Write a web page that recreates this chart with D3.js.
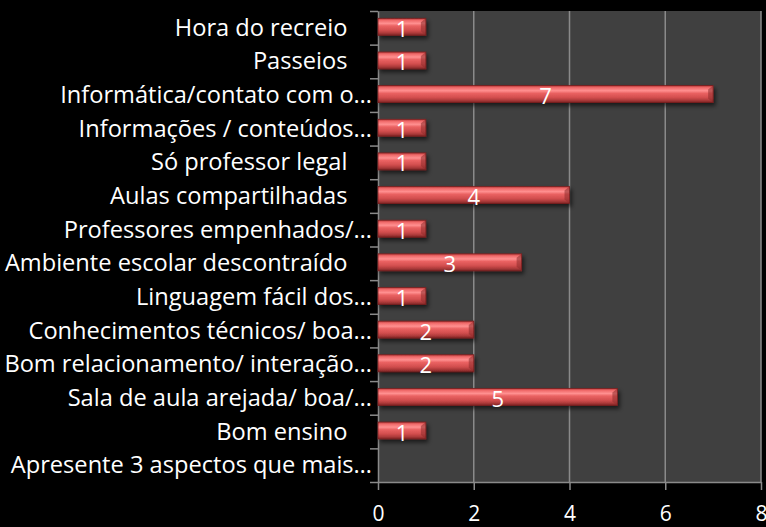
<!DOCTYPE html>
<html>
<head>
<meta charset="utf-8">
<script src="https://cdn.jsdelivr.net/npm/d3@7/dist/d3.min.js"></script>
<style>
  body { margin: 0; background: #000; }
  svg { display: block; }
  text { font-family: "Open Sans", Lato, sans-serif; fill: #fff; white-space: pre; }
</style>
</head>
<body>
<svg id="chart"></svg>
<script>
// categorias de cima para baixo
const categories = [
    "Hora do recreio    ",
    "Passeios    ",
    "Informática/contato com o…",
    "Informações / conteúdos…",
    "Só professor legal    ",
    "Aulas compartilhadas    ",
    "Professores empenhados/…",
    "Ambiente escolar descontraído    ",
    "Linguagem fácil dos…",
    "Conhecimentos técnicos/ boa…",
    "Bom relacionamento/ interação…",
    "Sala de aula arejada/ boa/…",
    "Bom ensino    ",
    "Apresente 3 aspectos que mais…"
];
const values = [1, 1, 7, 1, 1, 4, 1, 3, 1, 2, 2, 5, 1, null];
const xTicks = [0, 2, 4, 6, 8];

const W = 766, H = 527;
const plotLeft = 378, plotRight = 761, plotTop = 11, plotBottom = 482;

const svg = d3.select("#chart")
    .attr("width", W)
    .attr("height", H);

svg.append("rect").attr("width", W).attr("height", H).attr("fill", "#000");

const defs = svg.append("defs");
const grad = defs.append("linearGradient")
    .attr("id", "barGrad")
    .attr("x1", 0).attr("y1", 0).attr("x2", 0).attr("y2", 1);
[[0, "#b83a3a"], [0.12, "#f06a6a"], [0.3, "#ff9090"], [0.45, "#ea6262"],
 [0.7, "#d24e4e"], [0.85, "#b03c3c"], [1, "#7e2424"]].forEach(([o, c]) => {
    grad.append("stop").attr("offset", o).attr("stop-color", c);
});

const shadow = defs.append("filter").attr("id", "shadow")
    .attr("x", "-10%").attr("y", "-30%").attr("width", "130%").attr("height", "180%");
shadow.append("feDropShadow")
    .attr("dx", 2).attr("dy", 3).attr("stdDeviation", 2)
    .attr("flood-color", "#000").attr("flood-opacity", 0.6);

const x = d3.scaleLinear([0, 8], [plotLeft, plotRight]);
const y = d3.scaleBand(categories, [plotTop, plotBottom]).paddingInner(0);
const yIdx = d3.scaleLinear([0, categories.length], [plotTop, plotBottom]);

// fundo da área do gráfico
svg.append("rect")
    .attr("x", plotLeft).attr("y", plotTop)
    .attr("width", plotRight - plotLeft).attr("height", plotBottom - plotTop)
    .attr("fill", "#404040");

// linhas de grade
svg.append("g")
    .selectAll("line")
    .data(xTicks.slice(1))
    .join("line")
    .attr("x1", d => x(d)).attr("x2", d => x(d))
    .attr("y1", plotTop).attr("y2", plotBottom)
    .attr("stroke", "#8a8a8a")
    .attr("stroke-width", 1.5);

// eixo x
const xAxis = svg.append("g")
    .attr("transform", `translate(0, ${plotBottom})`)
    .call(d3.axisBottom(x).tickValues(xTicks).tickSize(8).tickSizeOuter(0));
xAxis.select(".domain").attr("stroke", "#8a8a8a").attr("stroke-width", 1.5);
xAxis.selectAll(".tick line").attr("stroke", "#8a8a8a").attr("stroke-width", 1.5);
xAxis.selectAll(".tick text")
    .attr("y", 39)
    .attr("dy", 0)
    .style("font-size", "21px")
    .attr("fill", "#fff");

// eixo y (marcas entre categorias)
const yAxis = svg.append("g")
    .attr("transform", `translate(${plotLeft}, 0)`)
    .call(d3.axisLeft(yIdx).ticks(categories.length).tickSize(8).tickSizeOuter(0).tickFormat(""));
yAxis.select(".domain").attr("stroke", "#8a8a8a").attr("stroke-width", 1.5);
yAxis.selectAll(".tick line").attr("stroke", "#8a8a8a").attr("stroke-width", 1.5);

// rótulos das categorias
const labels = svg.append("g")
    .selectAll("text")
    .data(categories)
    .join("text")
    .attr("x", 372)
    .attr("y", d => y(d) + y.bandwidth() / 2 + 8)
    .attr("text-anchor", "end")
    .style("font-size", "22px")
    .text(d => d);

// ajustar o tamanho para o rótulo mais longo caber (~369px)
const widest = d3.max(labels.nodes(), n => n.getComputedTextLength());
const labelSize = Math.min(24, 22 * 368 / widest);
labels.style("font-size", labelSize + "px");

// barras
const data = categories.map((c, i) => ({ cat: c, v: values[i] })).filter(d => d.v != null);
const barH = 17;

const bars = svg.append("g").selectAll("g")
    .data(data)
    .join("g")
    .attr("filter", "url(#shadow)");

bars.append("rect")
    .attr("x", x(0))
    .attr("y", d => y(d.cat) + y.bandwidth() / 2 - barH / 2 - 1)
    .attr("width", d => x(d.v) - x(0))
    .attr("height", barH)
    .attr("fill", "url(#barGrad)");

// chanfro na ponta da barra
bars.append("path")
    .attr("d", d => {
        const x1 = x(d.v), y0 = y(d.cat) + y.bandwidth() / 2 - barH / 2 - 1;
        return `M${x1},${y0} L${x1 - 5},${y0 + 4} L${x1 - 5},${y0 + barH - 4} L${x1},${y0 + barH} Z`;
    })
    .attr("fill", "#8e2c2c")
    .attr("opacity", 0.55);

bars.append("rect")
    .attr("x", x(0))
    .attr("y", d => y(d.cat) + y.bandwidth() / 2 - barH / 2 - 1)
    .attr("width", d => x(d.v) - x(0))
    .attr("height", barH)
    .attr("fill", "none")
    .attr("stroke", "#7a2020")
    .attr("stroke-width", 0.8);

// valores
svg.append("g")
    .selectAll("text")
    .data(data)
    .join("text")
    .attr("x", d => (x(0) + x(d.v)) / 2)
    .attr("y", d => y(d.cat) + y.bandwidth() / 2 + 9)
    .attr("text-anchor", "middle")
    .style("font-size", "22px")
    .text(d => d.v);
</script>
</body>
</html>
